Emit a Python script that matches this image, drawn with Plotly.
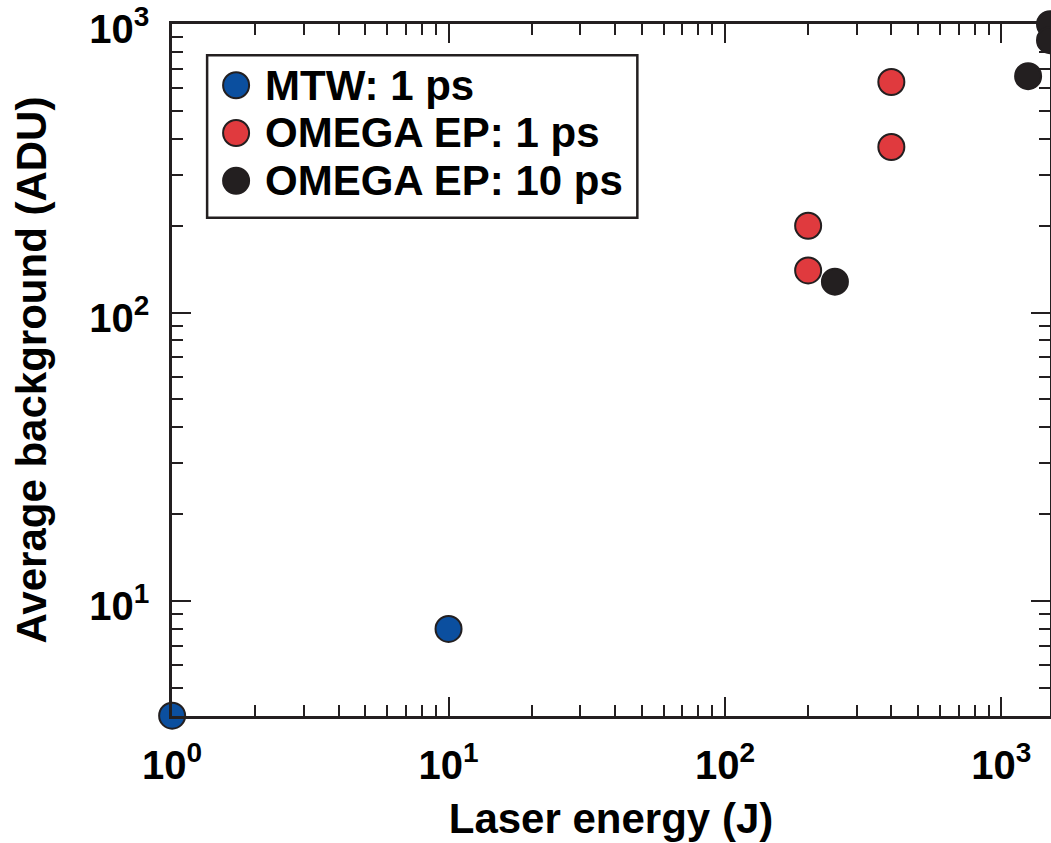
import plotly.graph_objects as go
import numpy as np

mtw_energy = [1, 10]
mtw_bg = [4, 8]
ep1_energy = [200, 200, 400, 400]
ep1_bg = [200, 140, 630, 375]
ep10_energy = [250, 1250, 1500, 1500]
ep10_bg = [128, 660, 1000, 880]

x_tickvals = [1, 10, 100, 1000]
x_ticktext = ["10<sup>0</sup>", "10<sup>1</sup>", "10<sup>2</sup>", "10<sup>3</sup>"]
y_tickvals = [10, 100, 1000]
y_ticktext = ["10<sup>1</sup>", "10<sup>2</sup>", "10<sup>3</sup>"]

FONT = "Liberation Sans, Arial, Helvetica, sans-serif"
DARK = "#231f20"

series = [
    ("MTW: 1 ps", mtw_energy, mtw_bg, "#0b4f9f"),
    ("OMEGA EP: 1 ps", ep1_energy, ep1_bg, "#e03a3e"),
    ("OMEGA EP: 10 ps", ep10_energy, ep10_bg, "#231f20"),
]

fig = go.Figure()
for name, x, y, c in series:
    fig.add_trace(go.Scatter(
        x=x, y=y, mode="markers", name=name, cliponaxis=False, showlegend=False,
        marker=dict(size=26, color=c, line=dict(color=DARK, width=2)),
    ))

# custom legend (box, symbols, labels) in paper coordinates
leg_x0, leg_x1, leg_y0, leg_y1 = 0.040, 0.530, 0.720, 0.955
row_y = [0.9115, 0.8425, 0.7735]
sym_x = 0.073
shapes = [dict(type="rect", xref="paper", yref="paper",
               x0=leg_x0, x1=leg_x1, y0=leg_y0, y1=leg_y1,
               line=dict(color=DARK, width=2.5), fillcolor="white", layer="above")]
annotations = []
for (name, _, _, c), ry in zip(series, row_y):
    shapes.append(dict(type="circle", xref="paper", yref="paper",
                       xsizemode="pixel", ysizemode="pixel",
                       xanchor=sym_x, yanchor=ry, x0=-13, x1=13, y0=-13, y1=13,
                       fillcolor=c, line=dict(color=DARK, width=2), layer="above"))
    annotations.append(dict(xref="paper", yref="paper", x=0.104, y=ry,
                            xanchor="left", yanchor="middle", showarrow=False,
                            text=name,
                            font=dict(family=FONT, size=42, color="black", weight="bold")))

axis_common = dict(
    type="log", showgrid=False, zeroline=False, automargin=False,
    showline=True, linecolor=DARK, linewidth=2.5, mirror="ticks",
    ticks="inside", ticklen=19, tickwidth=2, tickcolor=DARK,
    tickfont=dict(family=FONT, size=40, color="black", weight="bold"),
    ticklabeloverflow="allow",
    minor=dict(ticks="inside", ticklen=11, tickwidth=2, tickcolor=DARK, dtick="D1"),
)

fig.update_layout(
    width=1051, height=843,
    margin=dict(l=172, r=1, t=24, b=127),
    plot_bgcolor="white", paper_bgcolor="white",
    showlegend=False,
    shapes=shapes,
    annotations=annotations,
    xaxis=dict(
        **axis_common,
        range=[-0.0005, np.log10(1500)],
        tickvals=x_tickvals, ticktext=x_ticktext,
        ticklabelstandoff=12,
        title=dict(text="Laser energy (J)", standoff=18,
                   font=dict(family=FONT, size=42, color="black", weight="bold")),
    ),
    yaxis=dict(
        **axis_common,
        range=[np.log10(4) - 0.001, 3.0005],
        tickvals=y_tickvals, ticktext=y_ticktext,
        ticklabelstandoff=12,
        ticklabelshift=5,
        title=dict(text="Average background (ADU)", standoff=30,
                   font=dict(family=FONT, size=42, color="black", weight="bold")),
    ),
)

fig.write_html("out.html")
